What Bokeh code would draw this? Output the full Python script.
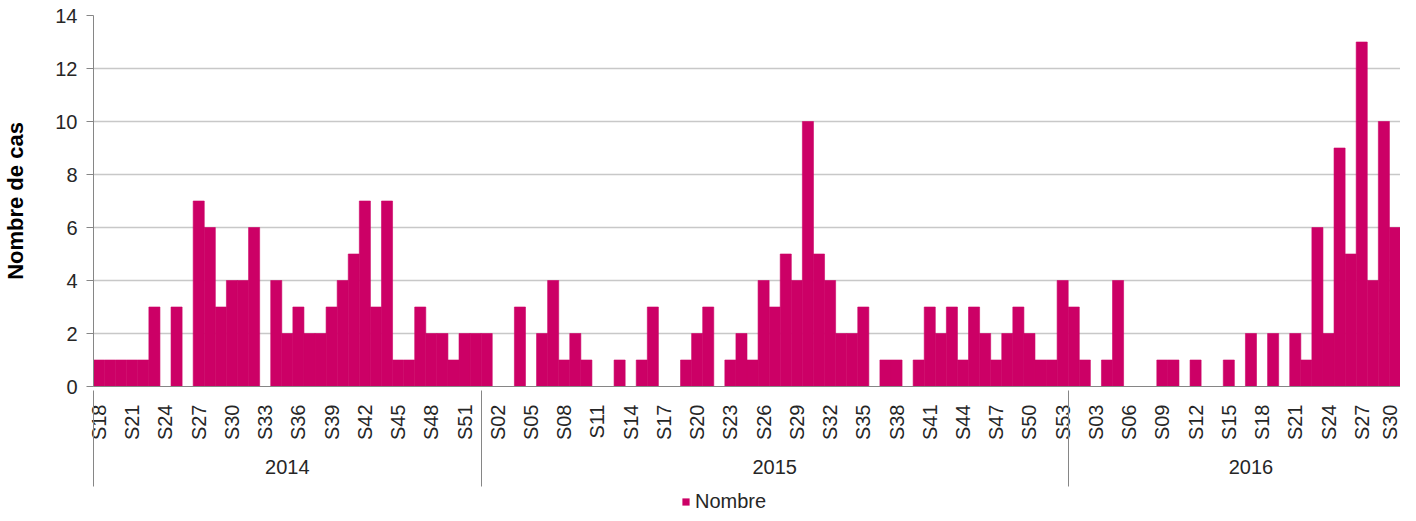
import math
from bokeh.plotting import figure
from bokeh.layouts import column
from bokeh.models import (Range1d, FixedTicker, LinearAxis, Legend, LegendItem,
                          ColumnDataSource)
from bokeh.embed import file_html
from bokeh.resources import INLINE

# ---------------- data ----------------
years = ["2014", "2015", "2016"]
weeks_2014 = list(range(18, 53))   # S18 .. S52
weeks_2015 = list(range(1, 54))    # S01 .. S53
weeks_2016 = list(range(1, 31))    # S01 .. S30

cases_2014 = [1, 1, 1, 1, 1, 3, 0, 3, 0, 7, 6, 3, 4, 4, 6, 0, 4, 2, 3, 2,
              2, 3, 4, 5, 7, 3, 7, 1, 1, 3, 2, 2, 1, 2, 2]
cases_2015 = [2, 0, 0, 3, 0, 2, 4, 1, 2, 1, 0, 0, 1, 0, 1, 3, 0, 0, 1, 2,
              3, 0, 1, 2, 1, 4, 3, 5, 4, 10, 5, 4, 2, 2, 3, 0, 1, 1, 0, 1,
              3, 2, 3, 1, 3, 2, 1, 2, 3, 2, 1, 1, 4]
cases_2016 = [3, 1, 0, 1, 4, 0, 0, 0, 1, 1, 0, 1, 0, 0, 1, 0, 2, 0, 2, 0,
              2, 1, 6, 2, 9, 5, 13, 4, 10, 6]

y_ticks = [0, 2, 4, 6, 8, 10, 12, 14]
series_name = "Nombre"
y_title = "Nombre de cas"

# ---------------- derived ----------------
all_weeks = weeks_2014 + weeks_2015 + weeks_2016
week_labels = ["S%02d" % w for w in all_weeks]
cases = cases_2014 + cases_2015 + cases_2016
n = len(cases)
xs = list(range(n))
group_sizes = [len(weeks_2014), len(weeks_2015), len(weeks_2016)]
bounds = [-0.5]
for g in group_sizes:
    bounds.append(bounds[-1] + g)

label_ticks = list(range(0, n, 3))
overrides = {i: week_labels[i] for i in label_ticks}

year_x = [17, 61, 104]

FONT = "Liberation Sans"
TXT = "#262626"
BAR = "#CC0066"
AXIS = "#868686"

src = ColumnDataSource(dict(x=xs, top=cases,
                            la=[1 if c > 0 else 0 for c in cases]))

p = figure(width=1400, height=488, output_backend="svg", toolbar_location=None,
           x_range=Range1d(-0.5, n - 0.5), y_range=Range1d(0, 14),
           min_border_left=87, min_border_right=0, min_border_top=15,
           min_border_bottom=102)
p.outline_line_color = None
p.background_fill_color = "white"
p.border_fill_color = "white"

r = p.vbar(x="x", top="top", width=1.0, source=src, fill_color=BAR,
           line_color=BAR, line_width=0.6, line_alpha="la")

# y axis
ya = p.yaxis[0]
ya.ticker = FixedTicker(ticks=y_ticks)
ya.axis_line_color = AXIS
ya.major_tick_line_color = AXIS
ya.major_tick_in = 0
ya.major_tick_out = 7
ya.minor_tick_line_color = None
ya.major_label_standoff = 9
ya.major_label_text_font = FONT
ya.major_label_text_font_size = "20px"
ya.major_label_text_color = TXT
ya.axis_label = y_title
ya.axis_label_text_font = FONT
ya.axis_label_text_font_style = "bold"
ya.axis_label_text_font_size = "22px"
ya.axis_label_text_color = "black"
ya.axis_label_standoff = 24

p.ygrid.ticker = FixedTicker(ticks=y_ticks)
p.ygrid.grid_line_color = "#c8c8c8"
p.ygrid.grid_line_width = 1.5
p.xgrid.visible = False

# x axis: week labels
xa = p.xaxis[0]
xa.ticker = FixedTicker(ticks=label_ticks)
xa.major_label_overrides = overrides
xa.major_label_orientation = math.pi / 2
xa.major_label_text_font = FONT
xa.major_label_text_font_size = "20px"
xa.major_label_text_color = TXT
xa.major_label_standoff = 18
xa.major_tick_line_color = None
xa.major_tick_in = 0
xa.major_tick_out = 0
xa.minor_tick_line_color = None
xa.minor_tick_in = 0
xa.minor_tick_out = 0
xa.axis_line_color = AXIS

# x axis: years, with group separators drawn as its minor ticks
yr = LinearAxis(ticker=FixedTicker(ticks=year_x, minor_ticks=bounds),
                major_label_overrides={year_x[i]: years[i] for i in range(3)})
yr.axis_line_color = None
yr.major_tick_line_color = None
yr.major_tick_out = 0
yr.major_tick_in = 0
yr.minor_tick_line_color = AXIS
yr.minor_tick_in = 53
yr.minor_tick_out = 43
yr.major_label_standoff = -27
yr.major_label_text_font = FONT
yr.major_label_text_font_size = "20px"
yr.major_label_text_color = TXT
p.add_layout(yr, "below")

# legend strip under the chart (its bars sit out of view; only the legend shows)
lg = figure(width=1400, height=25, output_backend="svg", toolbar_location=None,
            x_range=Range1d(-0.5, n - 0.5), y_range=Range1d(100, 101),
            x_axis_location=None, y_axis_location=None,
            min_border_left=0, min_border_right=0, min_border_top=0,
            min_border_bottom=0)
lg.outline_line_color = None
lg.xgrid.visible = False
lg.ygrid.visible = False
lr = lg.vbar(x="x", top="top", width=1.0, source=src, fill_color=BAR,
             line_color=None)
legend = Legend(items=[LegendItem(label=series_name, renderers=[lr])],
                location=(588, 0), orientation="horizontal",
                glyph_width=9, glyph_height=9, label_standoff=5,
                padding=0, margin=0, spacing=0,
                border_line_color=None, background_fill_alpha=0,
                label_text_font=FONT, label_text_font_size="20px",
                label_text_color=TXT)
lg.add_layout(legend, "center")

open("out.html", "w").write(file_html(column(p, lg), INLINE))
